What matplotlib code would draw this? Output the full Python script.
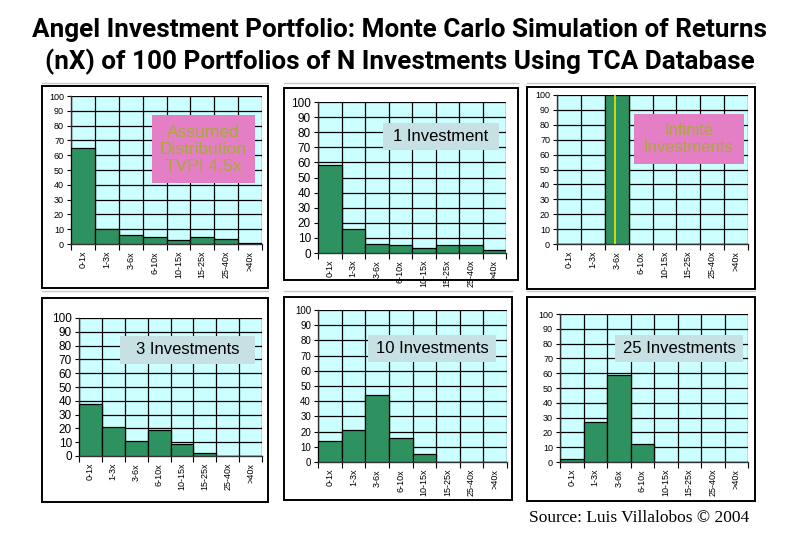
import numpy as np
import matplotlib
matplotlib.use('Agg')
import matplotlib.pyplot as plt
from matplotlib.patches import Rectangle
from matplotlib.lines import Line2D

# bins of the return multiple
bins = ['0-1x', '1-3x', '3-6x', '6-10x', '10-15x', '15-25x', '25-40x', '>40x']

# % of portfolios per bin
assumed = [65, 10, 6, 5, 2.5, 5, 3.5, 1]
inv_1 = [58, 16, 6, 5, 3.5, 5, 5, 2]
inv_inf = [0, 0, 100, 0, 0, 0, 0, 0]
inv_3 = [38, 21, 11, 19, 9, 2, 0, 0]
inv_10 = [14, 21, 44, 16, 5, 0, 0, 0]
inv_25 = [2, 27, 59, 12, 0, 0, 0, 0]

labels = ['Assumed\nDistribution\nTVPI 4.5x', '1 Investment', 'Infinite\nInvestments',
          '3 Investments', '10 Investments', '25 Investments']

W, H = 800, 533
BAR = '#2e9160'
BG = '#ccffff'
PINK = '#e47fc6'
OLIVE = '#a9a83a'
GREYBOX = '#c6e0e3'

fig = plt.figure(figsize=(8, 5.33), dpi=100)

def px_rect(l, t, r, b):
    return [l / W, 1 - b / H, (r - l) / W, (b - t) / H]

# (frame), (axes), (label box in data coords), pink?, ytick size, label size
panels = [
    ((42, 86, 268, 288), (71, 96, 262, 244), (2.9, 41, 7.2, 87), True, 6.5, 12.5),
    ((284, 88, 518, 280), (318, 102, 506, 253), (2.27, 68, 7.2, 86), False, 8.5, 12),
    ((527, 87, 755, 289), (557, 95, 748, 244), (2.72, 54, 7.32, 87), True, 6.5, 12),
    ((42, 298, 268, 502), (79, 318, 262, 456), (1.29, 67, 7.19, 87), False, 8.5, 12),
    ((284, 297, 512, 500), (318, 310, 507, 462), (1.62, 66, 7.04, 83.5), False, 7, 12),
    ((527, 297, 755, 501), (560, 314, 748, 462), (1.84, 67.6, 7.29, 85.8), False, 6.5, 12),
]
series = [assumed, inv_1, inv_inf, inv_3, inv_10, inv_25]

x = np.arange(len(bins))
for (frame, axr, box, pink, ysz, lsz), vals, lab in zip(panels, series, labels):
    fl, ft, fr, fb = frame
    fig.add_artist(Rectangle((fl / W, 1 - fb / H), (fr - fl) / W, (fb - ft) / H,
                             transform=fig.transFigure, fill=False,
                             edgecolor='black', lw=1.4))
    ax = fig.add_axes(px_rect(*axr))
    ax.set_facecolor(BG)
    ax.bar(x, vals, width=1.0, color=BAR, edgecolor='black', lw=0.9, zorder=3)
    if lab.startswith('Infinite'):
        ax.plot([1.95, 1.95], [0, 100], color='#e8e800', lw=1.2, zorder=4)
    ax.set_xlim(-0.5, 7.5)
    ax.set_ylim(0, 100)
    ax.set_yticks(np.arange(0, 101, 10))
    ax.set_xticks(np.arange(-0.5, 8, 1))
    ax.set_xticklabels([])
    ax.set_xticks(x, minor=True)
    ax.set_xticklabels(bins, minor=True, rotation=90, fontsize=6.5,
                       family='Liberation Sans')
    ax.tick_params(axis='x', which='minor', length=0, pad=5)
    ax.tick_params(axis='x', which='major', length=4, width=0.8, direction='out')
    ax.tick_params(axis='y', length=3, width=0.8, pad=2, labelsize=ysz)
    for t in ax.get_yticklabels():
        t.set_family('Liberation Sans')
    ax.grid(True, which='major', color='black', lw=0.9, zorder=1)
    ax.set_axisbelow(True)
    for s in ['top', 'right']:
        ax.spines[s].set_visible(False)
    for s in ['left', 'bottom']:
        ax.spines[s].set_color('#333333')
        ax.spines[s].set_linewidth(1.0)
    bx0, by0, bx1, by1 = box
    ax.add_patch(Rectangle((bx0, by0), bx1 - bx0, by1 - by0,
                           facecolor=PINK if pink else GREYBOX, edgecolor='none', zorder=5))
    ax.text((bx0 + bx1) / 2, (by0 + by1) / 2, lab, ha='center', va='center',
            color=OLIVE if pink else 'black', family='Liberation Sans',
            fontsize=lsz, linespacing=1.15, zorder=6)

# faint separator lines
for y0, segs in [(83, [(42, 268), (284, 518), (527, 755)]),
                 (291, [(42, 268), (284, 512), (527, 755)])]:
    for a, b in segs:
        fig.add_artist(Line2D([a / W, b / W], [1 - y0 / H, 1 - y0 / H],
                              transform=fig.transFigure, color='#c8c8c8', lw=1))

fig.text(0.5, 1 - 30 / H, 'Angel Investment Portfolio: Monte Carlo Simulation of Returns',
         ha='center', va='center', fontsize=18.8, fontweight='bold',
         family=['Roboto', 'DejaVu Sans'])
fig.text(0.5, 1 - 62 / H, '(nX) of 100 Portfolios of N Investments Using TCA Database',
         ha='center', va='center', fontsize=18.8, fontweight='bold',
         family=['Roboto', 'DejaVu Sans'])
fig.text(529 / W, 1 - 518 / H, 'Source: Luis Villalobos \u00a9 2004', ha='left', va='center',
         fontsize=12.5, family=['Liberation Serif', 'DejaVu Serif'])

fig.savefig('out.png', dpi=100)
